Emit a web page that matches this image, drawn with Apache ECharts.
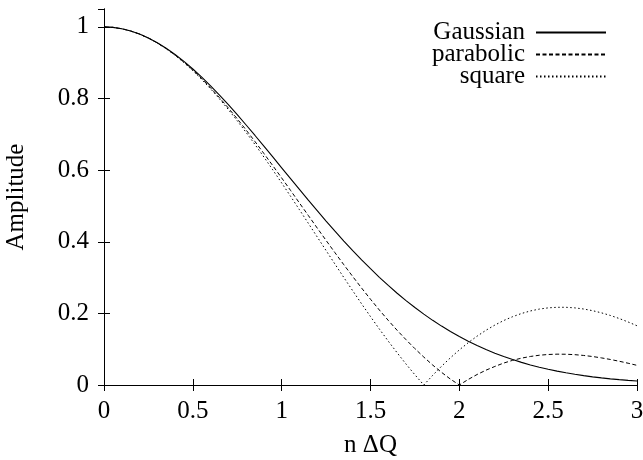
<!DOCTYPE html>
<html>
<head>
<meta charset="utf-8">
<script src="https://cdn.jsdelivr.net/npm/echarts@6/dist/echarts.min.js"></script>
<style>html,body{margin:0;padding:0;background:#fff}#c{width:643px;height:460px}</style>
</head>
<body>
<div id="c"></div>
<script>
var xs = [0,0.05,0.1,0.15,0.2,0.25,0.3,0.35,0.4,0.45,0.5,0.55,0.6,0.65,0.7,0.75,0.8,0.85,0.9,0.95,
  1,1.05,1.1,1.15,1.2,1.25,1.3,1.35,1.4,1.45,1.5,1.55,1.6,1.65,1.7,1.75,1.8,1.85,1.9,1.95,
  2,2.05,2.1,2.15,2.2,2.25,2.3,2.35,2.4,2.45,2.5,2.55,2.6,2.65,2.7,2.75,2.8,2.85,2.9,2.95,3];
var gaussian = [1.0000,0.9988,0.9950,0.9888,0.9802,0.9692,0.9560,0.9406,0.9231,0.9037,0.8825,0.8596,0.8353,0.8096,0.7827,0.7548,0.7261,0.6968,0.6670,0.6368,
  0.6065,0.5762,0.5461,0.5162,0.4868,0.4578,0.4296,0.4020,0.3753,0.3495,0.3247,0.3008,0.2780,0.2563,0.2357,0.2163,0.1979,0.1806,0.1645,0.1494,
  0.1353,0.1223,0.1103,0.0991,0.0889,0.0796,0.0710,0.0632,0.0561,0.0497,0.0439,0.0387,0.0340,0.0299,0.0261,0.0228,0.0198,0.0172,0.0149,0.0129,0.0111];
var parabolic = [1.0000,0.9987,0.9950,0.9887,0.9800,0.9688,0.9553,0.9395,0.9215,0.9015,0.8794,0.8554,0.8297,0.8023,0.7735,0.7434,0.7121,0.6797,0.6465,0.6126,
  0.5782,0.5434,0.5083,0.4734,0.4384,0.4038,0.3695,0.3358,0.3029,0.2707,0.2395,0.2093,0.1804,0.1527,0.1265,0.1015,0.0780,0.0557,0.0353,0.0164,
  0.0000,0.0155,0.0293,0.0414,0.0518,0.0613,0.0689,0.0750,0.0797,0.0831,0.0852,0.0861,0.0859,0.0847,0.0825,0.0795,0.0757,0.0713,0.0663,0.0608,0.0549];
var square = [1.0000,0.9987,0.9949,0.9886,0.9798,0.9686,0.9549,0.9390,0.9207,0.9003,0.8778,0.8533,0.8270,0.7989,0.7692,0.7379,0.7053,0.6715,0.6366,0.6008,
  0.5642,0.5271,0.4895,0.4516,0.4135,0.3755,0.3376,0.3001,0.2631,0.2266,0.1910,0.1562,0.1225,0.0899,0.0585,0.0285,0.0000,0.0270,0.0524,0.0761,
  0.0980,0.1181,0.1364,0.1529,0.1674,0.1801,0.1908,0.1997,0.2068,0.2120,0.2154,0.2170,0.2170,0.2154,0.2122,0.2076,0.2015,0.1942,0.1857,0.1760,0.1654];
var seriesNames = ['Gaussian','parabolic','square'];
var xTicks = ['0','0.5','1','1.5','2','2.5','3'];
var yTicks = ['0','0.2','0.4','0.6','0.8','1'];

function pairs(ys){ return xs.map(function(x,i){ return [x, ys[i]]; }); }
var FONT = 'Liberation Serif';
var FS = 25;
var chart = echarts.init(document.getElementById('c'), null, {renderer:'canvas'});
var axisLine = {show:true, lineStyle:{color:'#000', width:1}};
var tick = {show:true, inside:true, length:6, lineStyle:{color:'#000', width:1}};
function fmtX(v){ var s = String(Math.round(v*100)/100); return xTicks.indexOf(s) >= 0 ? s : ''; }
function fmtY(v){ var s = String(Math.round(v*100)/100); return yTicks.indexOf(s) >= 0 ? s : ''; }
chart.setOption({
  animation:false,
  backgroundColor:'#fff',
  grid:{left:104, right:6, top:9, bottom:75, containLabel:false, outerBoundsMode:'none'},
  legend:{
    data:seriesNames, orient:'vertical', align:'right', right:36, top:20, padding:0,
    itemWidth:70, itemHeight:14, itemGap:-3,
    itemStyle:{color:'transparent', borderColor:'transparent', borderWidth:0},
    textStyle:{fontFamily:FONT, fontSize:FS, color:'#000', lineHeight:20, padding:[0,6,0,0]},
    selectedMode:false
  },
  xAxis:[{
    type:'value', min:0, max:3, interval:0.5, position:'bottom',
    name:'n \u0394Q', nameLocation:'middle', nameGap:48,
    nameTextStyle:{fontFamily:FONT, fontSize:FS, color:'#000'},
    axisLine:axisLine, axisTick:tick, splitLine:{show:false},
    axisLabel:{fontFamily:FONT, fontSize:FS, color:'#000', margin:14, formatter:fmtX}
  },{
    type:'value', min:0, max:3, interval:0.5, position:'top',
    axisLine:axisLine, axisTick:tick, splitLine:{show:false}, axisLabel:{show:false}
  }],
  yAxis:[{
    type:'value', min:0, max:1.05, interval:0.2, position:'left',
    name:'Amplitude', nameLocation:'middle', nameGap:75, nameRotate:90,
    nameTextStyle:{fontFamily:FONT, fontSize:FS, color:'#000'},
    axisLine:axisLine, axisTick:tick, splitLine:{show:false},
    axisLabel:{fontFamily:FONT, fontSize:FS, color:'#000', margin:15, formatter:fmtY, showMaxLabel:false}
  },{
    type:'value', min:0, max:1.05, interval:0.2, position:'right',
    axisLine:axisLine, axisTick:tick, splitLine:{show:false}, axisLabel:{show:false}
  }],
  series:[
    {name:seriesNames[0], type:'line', data:pairs(gaussian), symbol:'none', showSymbol:false,
     lineStyle:{color:'#000', width:1.1, type:'solid'}, itemStyle:{color:'#000'}},
    {name:seriesNames[1], type:'line', data:pairs(parabolic), symbol:'none', showSymbol:false,
     lineStyle:{color:'#000', width:1, type:[4,2.5]}, itemStyle:{color:'#000'}},
    {name:seriesNames[2], type:'line', data:pairs(square), symbol:'none', showSymbol:false,
     lineStyle:{color:'#000', width:1, type:[1.5,2.5]}, itemStyle:{color:'#000'}}
  ]
});
</script>
</body>
</html>
